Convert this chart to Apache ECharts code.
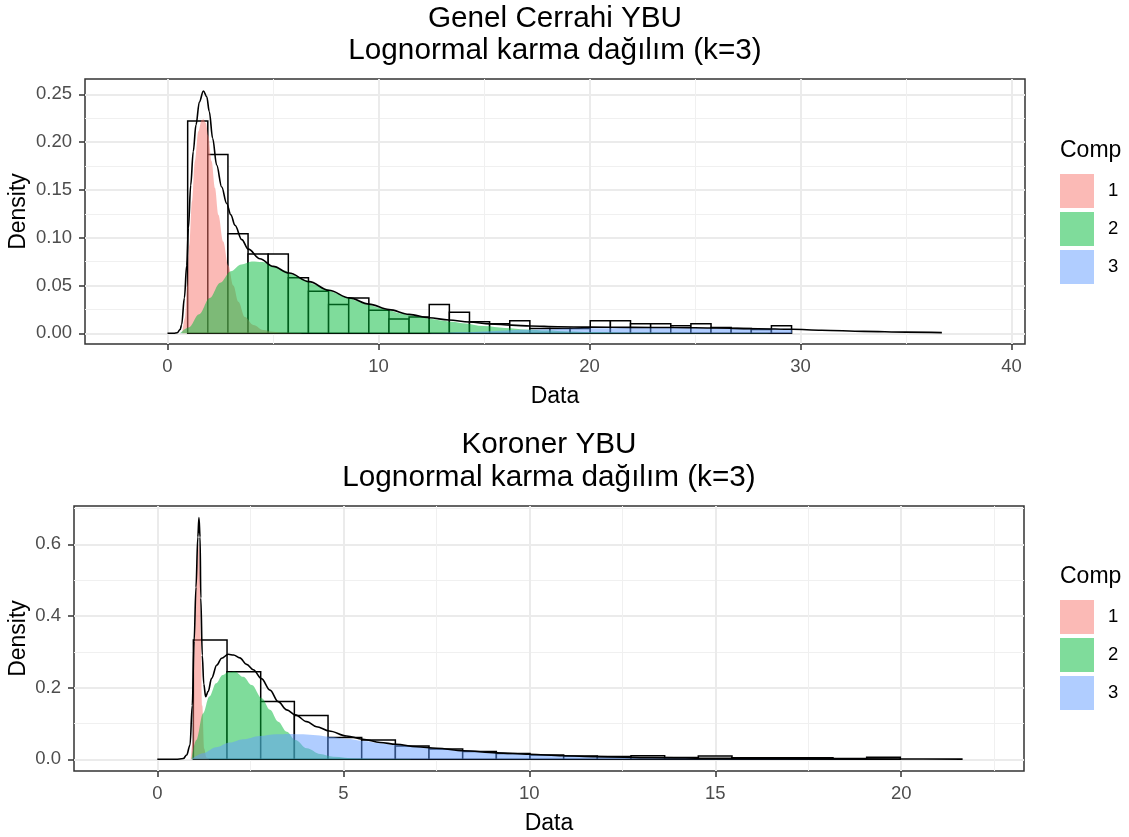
<!DOCTYPE html>
<html><head><meta charset="utf-8">
<script src="https://cdn.jsdelivr.net/npm/echarts@6/dist/echarts.min.js"></script>
<style>html,body{margin:0;padding:0;background:#fff}#c{width:1129px;height:837px}</style>
</head><body><div id="c"></div>
<script>
// ---------- DATA ----------
const compNames = ['1', '2', '3'];
const topTitle = ['Genel Cerrahi YBU', 'Lognormal karma dağılım (k=3)'];
const botTitle = ['Koroner YBU', 'Lognormal karma dağılım (k=3)'];

// Top panel (Genel Cerrahi YBU)
const topBinStart = 0.956, topBinWidth = 0.954;
const topHist = [0.222, 0.187, 0.104, 0.083, 0.083, 0.058, 0.044, 0.030, 0.037, 0.024,
  0.015, 0.017, 0.030, 0.022, 0.012, 0.010, 0.013, 0.005, 0.005, 0.005,
  0.013, 0.013, 0.010, 0.010, 0.008, 0.010, 0.006, 0.005, 0.004, 0.008];
const topTotal = [[0,0],[0.3,0],[0.46,0.0005],[0.6,0.004],[0.67,0.009],[0.8,0.037],[0.91,0.071],[0.99,0.11],
  [1.1,0.155],[1.22,0.19],[1.35,0.218],[1.51,0.242],[1.7,0.2535],[1.86,0.2475],[1.98,0.232],[2.14,0.204],
  [2.33,0.176],[2.57,0.153],[2.8,0.136],[3.0,0.124],[3.2,0.113],[3.52,0.098],[3.83,0.088],[4.38,0.078],
  [5.01,0.07],[5.76,0.063],[6.71,0.054],[7.65,0.045],[8.62,0.037],[9.55,0.0305],[10.5,0.0248],[11.45,0.0198],
  [12.39,0.0163],[13.34,0.0139],[14.3,0.0118],[15.3,0.0099],[16.3,0.0085],[17.2,0.0076],[18.5,0.0068],
  [20,0.0064],[22,0.0062],[24,0.006],[26,0.0055],[28,0.0048],[29.6,0.0042],[31,0.0032],[33,0.002],
  [35,0.0012],[36.7,0.0007]];
const topComp1 = [[0.7,0],[0.83,0.016],[0.94,0.05],[1.03,0.092],[1.16,0.138],[1.3,0.18],[1.46,0.211],
  [1.62,0.223],[1.7,0.224],[1.82,0.22],[1.93,0.207],[2.09,0.18],[2.25,0.152],[2.41,0.124],[2.64,0.096],
  [2.88,0.071],[3.12,0.05],[3.36,0.033],[3.67,0.017],[4.07,0.0087],[4.54,0.0035],[5.0,0.0015],[5.5,0.0006],[6.5,0.0001]];
const topComp2 = [[0.6,0],[1.0,0.006],[1.5,0.02],[2.0,0.037],[2.5,0.053],[3.0,0.065],[3.5,0.072],[4.0,0.075],
  [4.5,0.0745],[5.0,0.0705],[5.5,0.066],[6.0,0.061],[6.5,0.056],[7.0,0.051],[7.5,0.0465],[8.0,0.042],
  [8.5,0.038],[9.0,0.034],[9.5,0.03],[10.0,0.027],[10.5,0.024],[11.0,0.021],[11.5,0.019],[12.0,0.017],
  [12.5,0.015],[13.0,0.0135],[13.5,0.012],[14.0,0.0105],[15.0,0.0075],[16.0,0.0055],[17.0,0.004],
  [18.0,0.0028],[19.0,0.002],[20.0,0.0014],[22.0,0.0007],[25.0,0.0003],[29.6,0.0001]];
const topComp3 = [[12.0,0],[13.0,0.0003],[14.0,0.001],[15.0,0.002],[16.0,0.003],[17.0,0.0037],[18.0,0.0043],
  [19.0,0.0048],[20.0,0.0052],[22.0,0.0056],[24.0,0.0057],[26.0,0.0054],[28.0,0.0049],[29.6,0.0045]];
const topXTicks = [0, 10, 20, 30, 40];
const topXMinor = [5, 15, 25, 35];
const topYTicks = [0, 0.05, 0.10, 0.15, 0.20, 0.25];
const topYMinor = [0.025, 0.075, 0.125, 0.175, 0.225];

// Bottom panel (Koroner YBU)
const botBinStart = 0.97, botBinWidth = 0.905;
const botHist = [0.333, 0.244, 0.161, 0.122, 0.061, 0.054, 0.037, 0.029, 0.022, 0.016,
  0.012, 0.009, 0.008, 0.010, 0.005, 0.009, 0.004, 0.004, 0.004, 0.002, 0.006];
const botTotal = [[0,0],[0.5,0],[0.7,0.002],[0.79,0.012],[0.88,0.04],[0.94,0.15],[0.99,0.33],[1.04,0.48],
  [1.09,0.62],[1.12,0.675],[1.15,0.62],[1.17,0.45],[1.21,0.29],[1.25,0.21],[1.3,0.175],[1.37,0.19],
  [1.46,0.226],[1.6,0.263],[1.73,0.282],[1.91,0.293],[2.05,0.291],[2.22,0.283],[2.4,0.265],[2.58,0.25],
  [2.8,0.225],[3.03,0.193],[3.25,0.161],[3.48,0.138],[3.71,0.124],[4.02,0.105],[4.28,0.091],[4.62,0.079],
  [5.09,0.065],[5.52,0.056],[5.99,0.047],[6.42,0.042],[6.97,0.035],[7.51,0.031],[8.23,0.024],[9.12,0.018],
  [10.0,0.014],[10.9,0.01],[11.8,0.0073],[13.3,0.0045],[15.1,0.0028],[16.9,0.002],[19.9,0.001],[21.65,0.0005]];
const botComp1 = [[0.9,0],[0.95,0.05],[0.97,0.15],[1.01,0.34],[1.05,0.5],[1.09,0.58],[1.12,0.6],[1.15,0.52],
  [1.17,0.34],[1.21,0.15],[1.26,0.03],[1.32,0.005],[1.4,0]];
const botComp2 = [[0.92,0],[1.05,0.054],[1.23,0.128],[1.4,0.175],[1.58,0.212],[1.76,0.235],[1.89,0.243],
  [2.09,0.2445],[2.31,0.23],[2.54,0.207],[2.81,0.17],[3.03,0.138],[3.25,0.105],[3.48,0.077],[3.71,0.054],
  [4.02,0.031],[4.38,0.015],[4.73,0.0073],[5.36,0.002],[6.0,0.0005],[7.0,0]];
const botComp3 = [[0.92,0],[1.23,0.0167],[1.58,0.0335],[1.95,0.0465],[2.31,0.0558],[2.76,0.065],[3.2,0.0698],
  [3.56,0.0706],[3.92,0.0698],[4.28,0.067],[4.62,0.063],[5.09,0.057],[5.52,0.051],[5.99,0.045],[6.42,0.04],
  [6.97,0.035],[7.51,0.03],[8.2,0.025],[9.1,0.019],[10.0,0.0145],[10.9,0.0105],[11.8,0.0075],[12.7,0.0055],
  [13.6,0.004],[15,0.0025],[17,0.0015],[19.9,0.0008]];
const botXTicks = [0, 5, 10, 15, 20];
const botXMinor = [2.5, 7.5, 12.5, 17.5, 22.5];
const botYTicks = [0, 0.2, 0.4, 0.6];
const botYMinor = [0.1, 0.3, 0.5, 0.7];

// ---------- STYLE ----------
const FONT = '"Liberation Sans", Arial, sans-serif';
const compColors = ['rgba(248,118,109,0.5)', 'rgba(0,186,56,0.5)', 'rgba(97,156,255,0.5)'];
const TICK_FS = 18.5, TITLE_FS = 29.7, AXIS_FS = 23;

const panels = [
  {grid: {left: 85, top: 79, width: 940, height: 265}, xmin: -3.91, xmax: 40.64, ymin: -0.0112, ymax: 0.266,
   xt: topXTicks, xm: topXMinor, yt: topYTicks, ym: topYMinor, ydec: 2, ygap: 55,
   hist: [topBinStart, topBinWidth, topHist], total: topTotal, comps: [topComp1, topComp2, topComp3]},
  {grid: {left: 74, top: 506, width: 950, height: 265}, xmin: -2.239, xmax: 23.30, ymin: -0.0327, ymax: 0.7069,
   xt: botXTicks, xm: botXMinor, yt: botYTicks, ym: botYMinor, ydec: 1, ygap: 44,
   hist: [botBinStart, botBinWidth, botHist], total: botTotal, comps: [botComp1, botComp2, botComp3]}
];

const grids = [], xAxes = [], yAxes = [], series = [];
panels.forEach((p, i) => {
  grids.push(Object.assign({show: true, borderColor: '#333333', borderWidth: 1.5, backgroundColor: 'transparent',
    containLabel: false, outerBoundsMode: 'none'}, p.grid));
  xAxes[i] = {
    gridIndex: i, type: 'value', min: p.xmin, max: p.xmax,
    axisLine: {show: false, onZero: false},
    axisTick: {show: true, length: 6, lineStyle: {color: '#333333', width: 1.5}, customValues: p.xt},
    axisLabel: {customValues: p.xt, fontSize: TICK_FS, color: '#4D4D4D', margin: 13, fontFamily: FONT},
    splitLine: {show: true, lineStyle: {color: '#EBEBEB', width: 2}},
    name: 'Data', nameLocation: 'middle', nameGap: 41, nameMoveOverlap: false,
    nameTextStyle: {fontSize: AXIS_FS, color: '#000', fontFamily: FONT}
  };
  yAxes[i] = {
    gridIndex: i, type: 'value', min: p.ymin, max: p.ymax,
    axisLine: {show: false, onZero: false},
    axisTick: {show: true, length: 6, lineStyle: {color: '#333333', width: 1.5}, customValues: p.yt},
    axisLabel: {customValues: p.yt, fontSize: TICK_FS, color: '#4D4D4D', margin: 13, fontFamily: FONT,
      formatter: v => Number(v).toFixed(p.ydec)},
    splitLine: {show: true, lineStyle: {color: '#EBEBEB', width: 2}},
    name: 'Density', nameLocation: 'middle', nameGap: p.ygap, nameRotate: 90, nameMoveOverlap: false,
    nameTextStyle: {fontSize: AXIS_FS, color: '#000', fontFamily: FONT}
  };
  // minor grid axes
  xAxes[i + 2] = {
    gridIndex: i, type: 'value', min: p.xmin, max: p.xmax,
    axisLine: {show: false, onZero: false}, axisTick: {show: false, customValues: p.xm},
    axisLabel: {show: false, customValues: p.xm},
    splitLine: {show: true, lineStyle: {color: '#F0F0F0', width: 1}}
  };
  yAxes[i + 2] = {
    gridIndex: i, type: 'value', min: p.ymin, max: p.ymax, position: 'left',
    axisLine: {show: false, onZero: false}, axisTick: {show: false, customValues: p.ym},
    axisLabel: {show: false, customValues: p.ym},
    splitLine: {show: true, lineStyle: {color: '#F0F0F0', width: 1}}
  };
  const [bs, bw, hs] = p.hist;
  const hdata = hs.map((h, k) => [bs + k * bw, bs + (k + 1) * bw, h]);
  series.push({
    type: 'custom', xAxisIndex: i, yAxisIndex: i, data: hdata, z: 2, silent: true,
    encode: {x: [0, 1], y: 2},
    renderItem: (params, api) => {
      const a = api.coord([api.value(0), api.value(2)]);
      const b = api.coord([api.value(1), 0]);
      return {type: 'rect', shape: {x: a[0], y: a[1], width: b[0] - a[0], height: b[1] - a[1]},
        style: {fill: '#ffffff', stroke: '#000000', lineWidth: 1.5}};
    }
  });
  p.comps.forEach((c, k) => {
    series.push({
      name: compNames[k], type: 'line', xAxisIndex: i, yAxisIndex: i, data: c, z: 3, silent: true,
      symbol: 'none', smooth: 0.35, smoothMonotone: 'x',
      lineStyle: {width: 0, opacity: 0}, itemStyle: {color: compColors[k]},
      areaStyle: {color: compColors[k], opacity: 1, origin: 0}
    });
  });
  series.push({
    type: 'line', xAxisIndex: i, yAxisIndex: i, data: p.total, z: 4, silent: true,
    symbol: 'none', smooth: 0.35, smoothMonotone: 'x',
    lineStyle: {color: '#000', width: 1.6}, itemStyle: {color: '#000'}
  });
});

const legendItems = compNames.map((n, k) => ({name: n, icon: 'rect', itemStyle: {color: compColors[k]}}));
const legendBase = {
  orient: 'vertical', left: 1060, padding: 0, itemWidth: 34, itemHeight: 34, itemGap: 4,
  selectedMode: false, data: legendItems,
  textStyle: {fontSize: TICK_FS, color: '#000', fontFamily: FONT, padding: [0, 0, 0, 9]}
};

function textEl(t, x, y, fs, align) {
  return {type: 'text', x: x, y: y, silent: true,
    style: {text: t, fontSize: fs, fontFamily: FONT, fill: '#000', align: align || 'center', verticalAlign: 'middle'}};
}

const chart = echarts.init(document.getElementById('c'), null, {renderer: 'canvas'});
chart.setOption({
  animation: false,
  backgroundColor: '#ffffff',
  grid: grids, xAxis: xAxes, yAxis: yAxes, series: series,
  legend: [Object.assign({top: 174}, legendBase), Object.assign({top: 600}, legendBase)],
  graphic: [
    textEl(topTitle[0], 555, 19, TITLE_FS), textEl(topTitle[1], 555, 51, TITLE_FS),
    textEl(botTitle[0], 549, 445, TITLE_FS), textEl(botTitle[1], 549, 478, TITLE_FS),
    textEl('Comp', 1060, 151, AXIS_FS, 'left'), textEl('Comp', 1060, 577, AXIS_FS, 'left')
  ]
});
</script></body></html>
